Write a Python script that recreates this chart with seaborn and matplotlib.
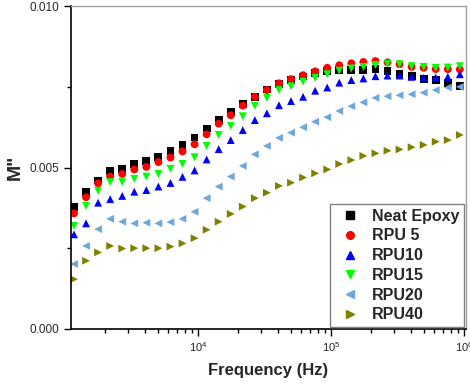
import numpy as np
import pandas as pd
import matplotlib
matplotlib.use('Agg')
import matplotlib.pyplot as plt
import matplotlib.ticker as mticker
import seaborn as sns

# Frequencies (Hz)
freq = [1170, 1441, 1776, 2189, 2697, 3323, 4095, 5046, 6218, 7661, 9441,
        11633, 14334, 17663, 21764, 26818, 33045, 40718, 50172, 61822, 76208, 93914,
        115700, 142600, 175700, 216500, 266800, 328800, 405100, 499300, 615200, 758100, 934100]

# M'' values (x 1e-3)
neat_epoxy = [3.77, 4.25, 4.60, 4.90, 4.95, 5.11, 5.21, 5.33, 5.51, 5.70, 5.93,
              6.21, 6.47, 6.73, 6.97, 7.19, 7.42, 7.60, 7.72, 7.82, 7.92, 7.98,
              8.01, 8.02, 8.03, 8.04, 7.99, 7.90, 7.83, 7.73, 7.70, 7.61, 7.52]
rpu5 = [3.58, 4.08, 4.51, 4.72, 4.80, 4.94, 5.02, 5.17, 5.31, 5.50, 5.72,
        6.03, 6.36, 6.62, 6.92, 7.19, 7.40, 7.61, 7.74, 7.86, 7.98, 8.09,
        8.17, 8.23, 8.27, 8.30, 8.26, 8.20, 8.12, 8.09, 8.05, 8.05, 8.04]
rpu10 = [2.93, 3.27, 3.91, 4.02, 4.12, 4.25, 4.30, 4.41, 4.52, 4.71, 4.91,
         5.25, 5.57, 5.85, 6.16, 6.47, 6.68, 6.93, 7.06, 7.19, 7.38, 7.48,
         7.63, 7.71, 7.76, 7.83, 7.85, 7.85, 7.81, 7.78, 7.79, 7.81, 7.89]
rpu15 = [3.19, 3.81, 4.28, 4.55, 4.55, 4.65, 4.72, 4.80, 4.96, 5.11, 5.32,
         5.67, 6.01, 6.29, 6.59, 6.91, 7.16, 7.40, 7.52, 7.66, 7.78, 7.89,
         8.00, 8.07, 8.12, 8.18, 8.22, 8.20, 8.14, 8.12, 8.09, 8.10, 8.14]
rpu20 = [2.01, 2.57, 3.09, 3.41, 3.32, 3.27, 3.29, 3.27, 3.31, 3.41, 3.63,
         4.05, 4.41, 4.72, 5.05, 5.41, 5.67, 5.92, 6.08, 6.25, 6.42, 6.56,
         6.75, 6.90, 7.02, 7.16, 7.21, 7.24, 7.27, 7.32, 7.40, 7.48, 7.50]
rpu40 = [1.54, 2.11, 2.37, 2.57, 2.49, 2.50, 2.50, 2.50, 2.55, 2.65, 2.81,
         3.07, 3.32, 3.56, 3.79, 4.05, 4.22, 4.43, 4.53, 4.69, 4.82, 4.94,
         5.11, 5.23, 5.36, 5.44, 5.52, 5.56, 5.63, 5.70, 5.80, 5.85, 6.01]

labels = ['Neat Epoxy', 'RPU 5', 'RPU10', 'RPU15', 'RPU20', 'RPU40']
series = [neat_epoxy, rpu5, rpu10, rpu15, rpu20, rpu40]
colors = ['#000000', '#ff0000', '#0000ff', '#00ff00', '#6fa8d8', '#808000']
markers = ['s', 'o', '^', 'v', '<', '>']

rows = []
for lab, vals in zip(labels, series):
    for f, v in zip(freq, vals):
        rows.append({'Frequency': f, 'M': v * 1e-3, 'Sample': lab})
df = pd.DataFrame(rows)

sns.set_style('ticks')
plt.rcParams['font.family'] = ['Liberation Sans', 'DejaVu Sans']

fig = plt.figure(figsize=(4.7, 3.86), dpi=100)
ax = fig.add_axes([0.151, 0.148, 0.840, 0.836])

sns.scatterplot(data=df, x='Frequency', y='M', hue='Sample', style='Sample',
                hue_order=labels, style_order=labels,
                palette=dict(zip(labels, colors)), markers=dict(zip(labels, markers)),
                s=32, linewidth=0, ax=ax, legend=False)

ax.set_xscale('log')
ax.set_xlim(1110, 1.035e6)
ax.set_ylim(0, 0.010)
ax.yaxis.set_major_locator(mticker.MultipleLocator(0.005))
ax.yaxis.set_minor_locator(mticker.MultipleLocator(0.0025))
ax.yaxis.set_major_formatter(mticker.FormatStrFormatter('%.3f'))
ax.xaxis.set_major_locator(mticker.LogLocator(base=10, numticks=10))
ax.xaxis.set_minor_locator(mticker.LogLocator(base=10, subs=np.arange(2, 10), numticks=20))
ax.xaxis.set_minor_formatter(mticker.NullFormatter())

ax.tick_params(axis='both', which='major', direction='out', length=5, width=1,
               color='black', labelsize=8.5)
ax.tick_params(axis='both', which='minor', direction='out', length=3, width=1, color='black')
ax.tick_params(axis='x', labelsize=8)

for side in ['left', 'bottom']:
    ax.spines[side].set_color('black')
    ax.spines[side].set_linewidth(1.2)
for side in ['top', 'right']:
    ax.spines[side].set_visible(True)
    ax.spines[side].set_color('#a0a0a0')
    ax.spines[side].set_linewidth(1.0)

ax.set_xlabel('Frequency (Hz)', fontsize=12, fontweight='bold', labelpad=6)
ax.set_ylabel('M"', fontsize=14, fontweight='bold', labelpad=4)

handles = [plt.Line2D([], [], linestyle='none', marker=m, color=c, markersize=5.5)
           for m, c in zip(markers, colors)]
leg = ax.legend(handles, labels, loc='lower right', bbox_to_anchor=(1.0, 0.0),
                fancybox=False, framealpha=1, edgecolor='#808080',
                prop={'weight': 'bold', 'size': 11.5}, labelspacing=0.3,
                handletextpad=0.45, borderpad=0.3, handlelength=1.9,
                borderaxespad=0.1)
leg.get_frame().set_linewidth(1.0)

plt.savefig('out.png', dpi=100)
